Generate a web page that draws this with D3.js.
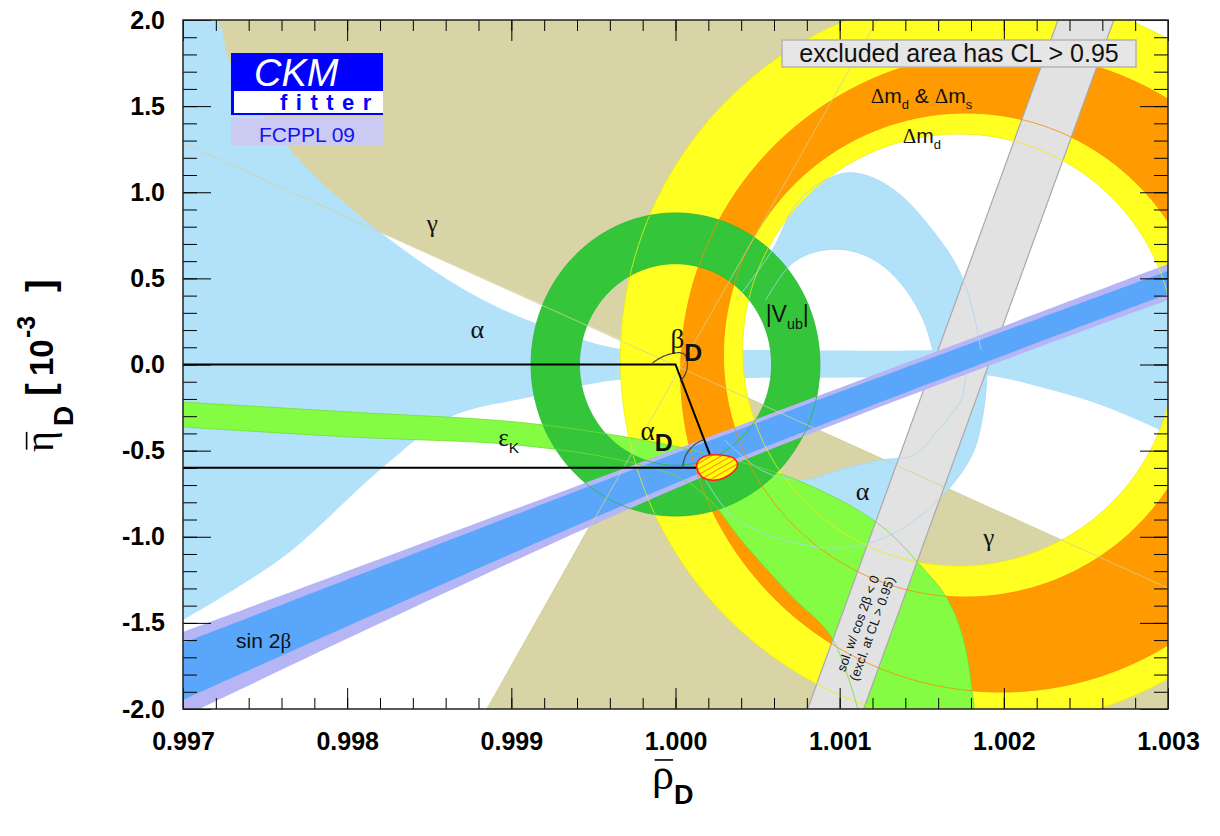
<!DOCTYPE html>
<html>
<head>
<meta charset="utf-8">
<script src="https://cdn.jsdelivr.net/npm/d3@7"></script>
<style>
  html, body { margin: 0; padding: 0; background: #fff; }
  svg { display: block; font-family: "Liberation Sans", Arial, Helvetica, sans-serif; }
</style>
</head>
<body>
<svg id="chart" width="1220" height="836"></svg>
<script>
// ---------------------------------------------------------------
// Axis ticks (rho_D bar on x, eta_D bar in units of 1e-3 on y)
// ---------------------------------------------------------------
const rhoTicks = [0.997, 0.998, 0.999, 1.000, 1.001, 1.002, 1.003];
const rhoTickLabels = ["0.997", "0.998", "0.999", "1.000", "1.001", "1.002", "1.003"];
const etaTicks = [-2, -1.5, -1, -0.5, 0, 0.5, 1, 1.5, 2];
const etaTickLabels = ["-2.0", "-1.5", "-1.0", "-0.5", "0.0", "0.5", "1.0", "1.5", "2.0"];

// ---------------------------------------------------------------
// Constraint regions, as [rho, eta] vertices
// ---------------------------------------------------------------
// gamma: double wedge around its apex
const gammaUpper = [[1.00002, -0.01], [0.997, 1.286], [0.997, 2.0], [1.00123, 2.0]];
const gammaLower = [[1.00002, -0.01], [0.99885, -2.0], [1.003, -2.0], [1.003, -1.298]];

// alpha: broad band through (1,0)
const alphaBandUpper = [[0.997, 2.0], [0.99720, 2.0], [0.99729, 1.750], [0.99767, 1.228], [0.99820, 0.769],
  [0.99875, 0.415], [0.99913, 0.247], [0.99964, 0.095], [1.0, 0.084], [1.00046, 0.084], [1.00157, 0.084],
  [1.002, 0.113], [1.00247, 0.247], [1.003, 0.386]];
const alphaBandLower = [[0.997, -1.483], [0.99761, -1.118], [0.99822, -0.595], [0.99863, -0.305],
  [0.99912, -0.189], [0.99964, -0.090], [1.0, -0.084], [1.00046, -0.078], [1.00157, -0.073],
  [1.00188, -0.061], [1.00229, -0.148], [1.00259, -0.235], [1.00291, -0.363], [1.003, -0.409]];
// alpha: upper crescent
const alphaUpOuter = [[1.00037, 0.374], [1.00059, 0.665], [1.00073, 0.926], [1.00088, 1.054], [1.00104, 1.112],
  [1.00119, 1.089], [1.00137, 0.984], [1.00155, 0.798], [1.00171, 0.578], [1.0018, 0.357], [1.00186, 0.084]];
const alphaUpInner = [[1.00055, 0.374], [1.0007, 0.578], [1.00085, 0.653], [1.00104, 0.665], [1.00123, 0.595],
  [1.00139, 0.450], [1.00151, 0.258], [1.00157, 0.073]];
// alpha: lower crescent
const alphaDownOuter = [[1.00015, -0.612], [1.00034, -0.874], [1.00066, -1.019], [1.00101, -1.065],
  [1.00131, -0.990], [1.00152, -0.856], [1.0017, -0.682], [1.00182, -0.496], [1.00188, -0.247], [1.0019, -0.032]];
const alphaDownInner = [[1.0003, -0.438], [1.00052, -0.612], [1.00076, -0.671], [1.00104, -0.601],
  [1.00125, -0.554], [1.00145, -0.525], [1.0016, -0.380], [1.00174, -0.206], [1.00177, -0.044]];

// Delta m_d (outer annulus) and Delta m_d & Delta m_s (inner annulus):
// centre and semi-axes along rho and eta (units of 1e-3)
const dmdOuter = { rho: 1.001902, eta: 0.032, rRho: 2.238, rEta: 2.131 };
const dmdInner = { rho: 1.001726, eta: 0.084, rRho: 1.317, rEta: 1.254 };
const dmsOuter = { rho: 1.001982, eta: -0.044, rRho: 1.951, rEta: 1.858 };
const dmsInner = { rho: 1.001768, eta: 0.055, rRho: 1.476, rEta: 1.405 };

// |V_ub| annulus around (1, 0)
const vubOuter = { rho: 1.0, eta: 0.0, rRho: 0.88, rEta: 0.88 };
const vubInner = { rho: 1.0, eta: 0.0, rRho: 0.585, rEta: 0.585 };

// epsilon_K band
const epsUpper = [[0.997, -0.218], [0.99802, -0.276], [0.99903, -0.334], [0.99966, -0.415], [1.00015, -0.508],
  [1.00074, -0.671], [1.00123, -0.920], [1.00149, -1.164], [1.00166, -1.367], [1.00176, -1.617], [1.00182, -2.0]];
const epsLower = [[0.997, -0.363], [0.99802, -0.421], [0.99903, -0.467], [0.99966, -0.554], [1.00003, -0.659],
  [1.00021, -0.787], [1.0004, -1.019], [1.0007, -1.338], [1.00095, -1.582], [1.00111, -2.0]];

// sin 2beta: outer (lavender) and inner (blue) bands
const s2bOuterTop = [[0.997, -1.553], [1.000152, -0.438], [1.003, 0.583]];
const s2bOuterBottom = [[0.997, -2.046], [1.000152, -0.659], [1.003, 0.374]];
const s2bInnerTop = [[0.997, -1.617], [1.000152, -0.462], [1.003, 0.543]];
const s2bInnerBottom = [[0.997, -1.947], [1.000152, -0.630], [1.003, 0.409]];

// solution with cos 2beta < 0 (excluded)
const cos2bLeft = [[1.00233, 2.0], [1.000805, -2.0]];
const cos2bRight = [[1.00267, 2.0], [1.001146, -2.0]];

// global fit: base and apex of the triangle, and the apex contour
const baseD = [1.0, 0.0];
const apexD = [1.00024, -0.60];
const fitContour = [[1.000134, -0.566], [1.000183, -0.531], [1.000274, -0.525], [1.000354, -0.543],
  [1.000378, -0.584], [1.000335, -0.636], [1.000244, -0.671], [1.000171, -0.659], [1.000134, -0.612]];

// region labels: anchor [rho, eta] and rich-text parts
const regionLabels = [
  { at: [0.998518, 0.769], anchor: "middle", size: 25, parts: [{ t: "γ", greek: true }] },
  { at: [1.001909, -1.054], anchor: "middle", size: 25, parts: [{ t: "γ", greek: true }] },
  { at: [0.998793, 0.154], anchor: "middle", size: 26, parts: [{ t: "α", greek: true }] },
  { at: [1.00114, -0.787], anchor: "middle", size: 26, parts: [{ t: "α", greek: true }] },
  { at: [0.998920, -0.473], anchor: "start", size: 25, parts: [{ t: "ε", greek: true }, { t: "K", sub: true }] },
  { at: [1.000549, 0.247], anchor: "start", size: 23, parts: [{ t: "|V" }, { t: "ub", sub: true }, { t: "|" }] },
  { at: [1.001189, 1.518], anchor: "start", size: 21, parts: [{ t: "Δ", greek: true }, { t: "m" }, { t: "d", sub: true },
      { t: " & " }, { t: "Δ", greek: true }, { t: "m" }, { t: "s", sub: true }] },
  { at: [1.001384, 1.286], anchor: "start", size: 21, parts: [{ t: "Δ", greek: true }, { t: "m" }, { t: "d", sub: true }] },
  { at: [0.997323, -1.646], anchor: "start", size: 21, parts: [{ t: "sin 2" }, { t: "β", greek: true }] },
  { at: [0.99997, 0.096], anchor: "start", size: 27, parts: [{ t: "β", greek: true }, { t: "D", sub: true, bold: true, scale: 0.92, shift: 0.5 }] },
  { at: [0.999787, -0.438], anchor: "start", size: 27, parts: [{ t: "α", greek: true }, { t: "D", sub: true, bold: true, scale: 0.92, shift: 0.4 }] }
];

// ---------------------------------------------------------------
const M = { left: 183, right: 1168, top: 20, bottom: 709 };
const x = d3.scaleLinear().domain([0.997, 1.003]).range([M.left, M.right]);
const y = d3.scaleLinear().domain([-2, 2]).range([M.bottom, M.top]);
const SERIF = "'Liberation Serif','Times New Roman',serif";

const svg = d3.select("#chart");
const defs = svg.append("defs");
defs.append("clipPath").attr("id", "plotClip").append("rect")
  .attr("x", M.left).attr("y", M.top).attr("width", M.right - M.left).attr("height", M.bottom - M.top);

const hatch = defs.append("pattern").attr("id", "fitHatch").attr("patternUnits", "userSpaceOnUse")
  .attr("width", 5).attr("height", 5).attr("patternTransform", "rotate(60)");
hatch.append("rect").attr("width", 5).attr("height", 5).attr("fill", "#ffff00");
hatch.append("line").attr("x1", 0).attr("y1", 0).attr("x2", 0).attr("y2", 5)
  .attr("stroke", "#ff3030").attr("stroke-width", 1.2);

const smooth = d3.line().x(d => x(d[0])).y(d => y(d[1])).curve(d3.curveCatmullRom.alpha(0.5));
const straight = d3.line().x(d => x(d[0])).y(d => y(d[1]));
const closedSmooth = d3.line().x(d => x(d[0])).y(d => y(d[1])).curve(d3.curveCatmullRomClosed.alpha(0.5));

// region between two edges given in the same direction
function band(a, b, gen = smooth) {
  return gen(a) + "L" + gen(b.slice().reverse()).slice(1) + "Z";
}
function ellipsePts(c) {
  return d3.range(0, 361, 2).map(a => {
    const t = a * Math.PI / 180;
    return [c.rho + c.rRho * Math.cos(t) * 1e-3, c.eta + c.rEta * Math.sin(t)];
  });
}
function ring(cOut, cIn) {
  return straight(ellipsePts(cOut)) + "Z" + straight(ellipsePts(cIn)) + "Z";
}

const plot = svg.append("g").attr("clip-path", "url(#plotClip)");

// gamma
plot.append("path").attr("d", straight(gammaUpper) + "Z").attr("fill", "#d8d4a6");
plot.append("path").attr("d", straight(gammaLower) + "Z").attr("fill", "#d8d4a6");

// alpha
const alphaFill = "#b2e2fa";
plot.append("path").attr("d", band(alphaBandUpper, alphaBandLower)).attr("fill", alphaFill);
plot.append("path").attr("d", band(alphaUpOuter, alphaUpInner)).attr("fill", alphaFill);
plot.append("path").attr("d", band(alphaDownOuter, alphaDownInner)).attr("fill", alphaFill);

// Delta m_d and Delta m_s
plot.append("path").attr("d", ring(dmdOuter, dmdInner)).attr("fill", "#ffff22").attr("fill-rule", "evenodd");
plot.append("path").attr("d", ring(dmsOuter, dmsInner)).attr("fill", "#ff9a00").attr("fill-rule", "evenodd");

// epsilon_K
plot.append("path").attr("d", band(epsUpper, epsLower)).attr("fill", "#84fc44");

// |V_ub|
plot.append("path").attr("d", ring(vubOuter, vubInner)).attr("fill", "#34c53b").attr("fill-rule", "evenodd");

// cos 2beta < 0 solution
plot.append("path").attr("d", band(cos2bLeft, cos2bRight, straight))
  .attr("fill", "#e2e2e2").attr("stroke", "#a9a9a9").attr("stroke-width", 1.2);

// sin 2beta
plot.append("path").attr("d", band(s2bOuterTop, s2bOuterBottom)).attr("fill", "#b6b6f6");
plot.append("path").attr("d", band(s2bInnerTop, s2bInnerBottom)).attr("fill", "#5aa6fa");

// thin contour lines of each constraint
const thin = plot.append("g").attr("fill", "none").attr("stroke-width", 0.8);
[dmdOuter, dmdInner].forEach(c => thin.append("path").attr("d", straight(ellipsePts(c))).attr("stroke", "#eeee10"));
[dmsOuter, dmsInner].forEach(c => thin.append("path").attr("d", straight(ellipsePts(c))).attr("stroke", "#ff8a00"));
[vubOuter, vubInner].forEach(c => thin.append("path").attr("d", straight(ellipsePts(c))).attr("stroke", "#2cb834"));
[alphaUpOuter, alphaUpInner, alphaDownOuter, alphaDownInner].forEach(e =>
  thin.append("path").attr("d", smooth(e)).attr("stroke", "#a6d8f2"));
[epsUpper, epsLower].forEach(e => thin.append("path").attr("d", smooth(e)).attr("stroke", "#6ee034"));
[[gammaUpper[1], gammaLower[3]], [gammaLower[1], gammaUpper[3]]].forEach(e =>
  thin.append("path").attr("d", straight(e)).attr("stroke", "#d4cf98"));

// label inside the cos 2beta band
const bandAngle = Math.atan2(y(cos2bLeft[0][1]) - y(cos2bLeft[1][1]), x(cos2bLeft[0][0]) - x(cos2bLeft[1][0])) * 180 / Math.PI;
const c2bText = plot.append("g")
  .attr("transform", `translate(${x(1.00116)},${y(-1.52)}) rotate(${bandAngle})`)
  .attr("font-size", 13).attr("fill", "#111").attr("text-anchor", "middle");
c2bText.append("text").attr("y", -4).text("sol. w/ cos 2β < 0");
c2bText.append("text").attr("y", 11).text("(excl. at CL > 0.95)");

// triangle
const tri = plot.append("g").attr("fill", "none").attr("stroke", "#000").attr("stroke-width", 2);
tri.append("path").attr("d", straight([[0.997, baseD[1]], baseD, apexD, [0.997, apexD[1]]]));

// angle arcs
const bx = x(baseD[0]), by = y(baseD[1]), ax = x(apexD[0]), ay = y(apexD[1]);
const sideAng = Math.atan2(ay - by, ax - bx);           // direction base -> apex
const arcG = plot.append("g").attr("fill", "none").attr("stroke", "#4a4a3a").attr("stroke-width", 1.2);
const betaPts = d3.range(0, 1.0001, 0.02).map(f => {
  const a0 = Math.PI, a1 = 2 * Math.PI + sideAng;
  const a = a0 + f * (a1 - a0);
  const rx = 24 - 12 * Math.min(1, f * 1.6), ry = 8 + 10 * f;
  return [bx + rx * Math.cos(a), by + ry * Math.sin(a)];
});
arcG.append("path").attr("d", d3.line().curve(d3.curveBasis)(betaPts));
const backAng = Math.atan2(by - ay, bx - ax);
const alphaPts = d3.range(0, 1.0001, 0.05).map(f => {
  const a = Math.PI + f * (backAng + 2 * Math.PI - Math.PI);
  return [ax + 32 * Math.cos(a), ay + 30 * Math.sin(a)];
});
arcG.append("path").attr("d", d3.line()(alphaPts));

// fit contour
plot.append("path").attr("d", closedSmooth(fitContour))
  .attr("fill", "url(#fitHatch)").attr("stroke", "#ff2020").attr("stroke-width", 1.6);

// region labels
function rich(textSel, parts, size) {
  let shift = 0;
  parts.forEach(p => {
    const s = p.sub || p.sup ? size * (p.scale || 0.62) : size;
    const target = p.sub ? size * (p.shift || 0.3) : p.sup ? -size * 0.45 : 0;
    const ts = textSel.append("tspan").text(p.t).attr("font-size", s).attr("dy", target - shift);
    shift = target;
    if (p.greek) ts.attr("font-family", SERIF);
    if (p.bold) ts.attr("font-weight", "bold");
  });
}
const labelG = svg.append("g").attr("fill", "#111");
regionLabels.forEach(l => {
  const t = labelG.append("text").attr("x", x(l.at[0])).attr("y", y(l.at[1]))
    .attr("text-anchor", l.anchor).attr("font-size", l.size);
  rich(t, l.parts, l.size);
});

// ---------------------------------------------------------------
// Axes (ticks point into the frame on all four sides)
// ---------------------------------------------------------------
const rhoMinor = d3.range(0, 31).map(i => 0.997 + i * 0.0002);
const etaMinor = d3.range(0, 41).map(i => -2 + i * 0.1);
function styleAxis(g) { g.select(".domain").remove(); g.selectAll("line").attr("stroke", "#000"); }

svg.append("g").attr("transform", `translate(0,${M.bottom})`)
  .call(d3.axisBottom(x).tickValues(rhoMinor).tickSizeInner(-11).tickSizeOuter(0).tickFormat("")).call(styleAxis);
svg.append("g").attr("transform", `translate(0,${M.top})`)
  .call(d3.axisTop(x).tickValues(rhoMinor).tickSizeInner(-11).tickSizeOuter(0).tickFormat("")).call(styleAxis);
svg.append("g").attr("transform", `translate(0,${M.top})`)
  .call(d3.axisTop(x).tickValues(rhoTicks).tickSizeInner(-21).tickSizeOuter(0).tickFormat("")).call(styleAxis);
const xAxis = svg.append("g").attr("transform", `translate(0,${M.bottom})`)
  .call(d3.axisBottom(x).tickValues(rhoTicks).tickSizeInner(-21).tickSizeOuter(0).tickPadding(23)
    .tickFormat((d, i) => rhoTickLabels[i])).call(styleAxis);

svg.append("g").attr("transform", `translate(${M.left},0)`)
  .call(d3.axisLeft(y).tickValues(etaMinor).tickSizeInner(-14).tickSizeOuter(0).tickFormat("")).call(styleAxis);
svg.append("g").attr("transform", `translate(${M.right},0)`)
  .call(d3.axisRight(y).tickValues(etaMinor).tickSizeInner(-14).tickSizeOuter(0).tickFormat("")).call(styleAxis);
svg.append("g").attr("transform", `translate(${M.right},0)`)
  .call(d3.axisRight(y).tickValues(etaTicks).tickSizeInner(-28).tickSizeOuter(0).tickFormat("")).call(styleAxis);
const yAxis = svg.append("g").attr("transform", `translate(${M.left},0)`)
  .call(d3.axisLeft(y).tickValues(etaTicks).tickSizeInner(-28).tickSizeOuter(0).tickPadding(18)
    .tickFormat((d, i) => etaTickLabels[i])).call(styleAxis);

[xAxis, yAxis].forEach(a => a.selectAll("text")
  .attr("font-family", "'Liberation Sans',Arial,sans-serif").attr("font-weight", "bold")
  .attr("font-size", 25).attr("fill", "#000"));

// frame
svg.append("rect").attr("x", M.left).attr("y", M.top)
  .attr("width", M.right - M.left).attr("height", M.bottom - M.top)
  .attr("fill", "none").attr("stroke", "#222").attr("stroke-width", 1.5);

// ---------------------------------------------------------------
// Axis titles
// ---------------------------------------------------------------
function overbar(textNode, charIndex, fontSize, parent) {
  const s = textNode.getStartPositionOfChar(charIndex);
  const e = textNode.getEndPositionOfChar(charIndex);
  const yy = s.y - fontSize * 0.66;
  parent.append("line").attr("x1", s.x + fontSize * 0.06).attr("x2", e.x - fontSize * 0.02)
    .attr("y1", yy).attr("y2", yy).attr("stroke", "#000").attr("stroke-width", 1.6);
}
// x title: rho-bar_D
const xt = svg.append("text").attr("x", 652).attr("y", 789);
xt.append("tspan").text("ρ").attr("font-family", SERIF).attr("font-size", 44);
xt.append("tspan").text("D").attr("font-weight", "bold").attr("font-size", 27).attr("dy", 15);
overbar(xt.node(), 0, 44, svg);

// y title: eta-bar_D [10^-3]
const ytG = svg.append("g").attr("transform", "translate(53,364) rotate(-90)");
const yt = ytG.append("text").attr("y", 0).attr("font-weight", "bold");
yt.append("tspan").attr("x", -88).text("η").attr("font-family", SERIF).attr("font-weight", "normal").attr("font-size", 40);
yt.append("tspan").attr("x", -62).text("D").attr("font-size", 28).attr("dy", 20);
yt.append("tspan").attr("x", -32).text("[").attr("font-size", 38).attr("dy", -20);
yt.append("tspan").attr("x", -12).text("10").attr("font-size", 33);
yt.append("tspan").attr("x", 26).text("-3").attr("font-size", 25).attr("dy", -18);
yt.append("tspan").attr("x", 72).text("]").attr("font-size", 38).attr("dy", 18);
overbar(yt.node(), 0, 40, ytG);

// ---------------------------------------------------------------
// Legend note and CKMfitter logo
// ---------------------------------------------------------------
const note = svg.append("g");
note.append("rect").attr("x", 782).attr("y", 40).attr("width", 354).attr("height", 27)
  .attr("fill", "#e6e6e6").attr("stroke", "#b4b4b4").attr("stroke-width", 1.5);
note.append("text").attr("x", 959).attr("y", 62).attr("text-anchor", "middle")
  .attr("font-size", 25).attr("fill", "#111").text("excluded area has CL > 0.95");

const logo = svg.append("g");
logo.append("rect").attr("x", 231).attr("y", 53).attr("width", 152).attr("height", 62).attr("fill", "#0000ff");
logo.append("rect").attr("x", 234).attr("y", 91).attr("width", 149).attr("height", 22).attr("fill", "#fff");
logo.append("text").attr("x", 254).attr("y", 86).attr("font-size", 38).attr("font-style", "italic")
  .attr("fill", "#fff").text("CKM");
logo.append("text").attr("x", 280).attr("y", 110).attr("font-size", 22).attr("font-weight", "bold")
  .attr("letter-spacing", 8.5).attr("fill", "#0000ff").text("fitter");
logo.append("rect").attr("x", 231).attr("y", 118).attr("width", 152).attr("height", 27).attr("fill", "#cacaf2");
logo.append("text").attr("x", 307).attr("y", 142).attr("text-anchor", "middle").attr("font-size", 21)
  .attr("fill", "#1414f0").text("FCPPL 09");
</script>
</body>
</html>
